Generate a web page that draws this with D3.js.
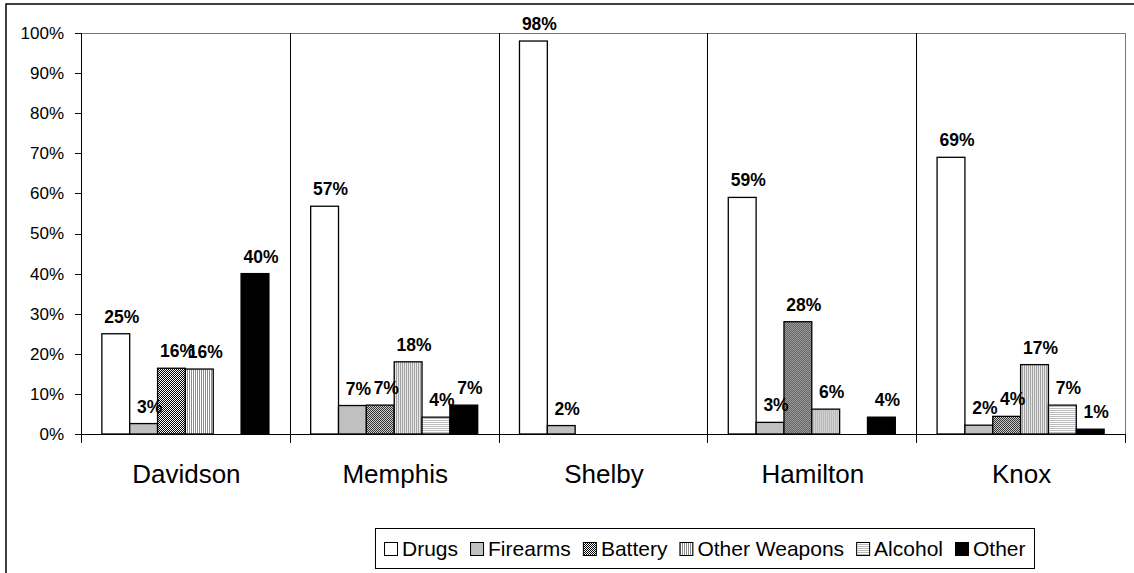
<!DOCTYPE html>
<html lang="en">
<head>
    <meta charset="UTF-8">
    <title>Bar chart</title>
    <script type="text/javascript" src="https://cdn.jsdelivr.net/npm/d3@7/dist/d3.min.js"></script>
    <style>
        body { margin: 0; background: #fff; }
        svg text { font-family: "Liberation Sans", Arial, sans-serif; fill: #000; }
        .axis path, .axis line { fill: none; stroke: #000; shape-rendering: crispEdges; }
        .axis text { font-size: 17px; }
    </style>
</head>
<body>
<script type="text/javascript">
    let width = 1134;
    let height = 573;

    // data
    let categories = ['Davidson', 'Memphis', 'Shelby', 'Hamilton', 'Knox'];
    let seriesNames = ['Drugs', 'Firearms', 'Battery', 'Other Weapons', 'Alcohol', 'Other'];
    let drugs = [25, 56.8, 98, 59, 69];
    let firearms = [2.6, 7.1, 2.1, 2.9, 2.2];
    let battery = [16.4, 7.2, 0, 28, 4.4];
    let otherWeapons = [16.2, 18, 0, 6.2, 17.3];
    let alcohol = [0, 4.2, 0, 0, 7.2];
    let other = [40, 7.2, 0, 4.2, 1.2];
    let yTicks = [0, 10, 20, 30, 40, 50, 60, 70, 80, 90, 100];

    let seriesValues = [drugs, firearms, battery, otherWeapons, alcohol, other];

    let svg = d3.select('body')
        .append('svg')
        .attr('width', width)
        .attr('height', height);

    // patterns for the bar fills
    let defs = svg.append('defs');
    let checker = defs.append('pattern').attr('id', 'p-battery')
        .attr('patternUnits', 'userSpaceOnUse').attr('width', 2).attr('height', 2);
    checker.append('rect').attr('width', 2).attr('height', 2).attr('fill', '#fff');
    checker.append('rect').attr('width', 1).attr('height', 1).attr('fill', '#000');
    checker.append('rect').attr('x', 1).attr('y', 1).attr('width', 1).attr('height', 1).attr('fill', '#000');

    let vlines = defs.append('pattern').attr('id', 'p-weapons')
        .attr('patternUnits', 'userSpaceOnUse').attr('width', 2).attr('height', 2);
    vlines.append('rect').attr('width', 2).attr('height', 2).attr('fill', '#fff');
    vlines.append('rect').attr('width', 1).attr('height', 2).attr('fill', '#8c8c8c');

    let hlines = defs.append('pattern').attr('id', 'p-alcohol')
        .attr('patternUnits', 'userSpaceOnUse').attr('width', 2).attr('height', 2);
    hlines.append('rect').attr('width', 2).attr('height', 2).attr('fill', '#fff');
    hlines.append('rect').attr('width', 2).attr('height', 1).attr('fill', '#bcbcbc');

    let fills = ['#fff', '#c0c0c0', 'url(#p-battery)', 'url(#p-weapons)', 'url(#p-alcohol)', '#000'];

    // outer chart frame (runs off the picture on the right and bottom)
    svg.append('rect')
        .attr('x', 6).attr('y', 4)
        .attr('width', 1200).attr('height', 700)
        .attr('fill', 'none').attr('stroke', '#000').attr('stroke-width', 1.5);

    let plot = {left: 81, top: 33, right: 1125, bottom: 434};

    let x0 = d3.scaleBand()
        .domain(categories)
        .range([plot.left, plot.right])
        .padding(0);

    let gap = x0.bandwidth() * 1.5 / 7.5;
    let x1 = d3.scaleBand()
        .domain(seriesNames)
        .range([gap / 2, x0.bandwidth() - gap / 2])
        .padding(0);

    let y = d3.scaleLinear()
        .domain([0, 100])
        .range([plot.bottom, plot.top]);

    // plot area
    svg.append('rect')
        .attr('x', plot.left).attr('y', plot.top)
        .attr('width', plot.right - plot.left)
        .attr('height', plot.bottom - plot.top)
        .attr('fill', '#fff')
        .attr('stroke', '#777')
        .attr('shape-rendering', 'crispEdges');

    // separators between counties
    svg.append('g')
        .selectAll('line')
        .data(categories.slice(1))
        .enter()
        .append('line')
        .attr('x1', d => Math.round(x0(d)) + 0.5)
        .attr('x2', d => Math.round(x0(d)) + 0.5)
        .attr('y1', plot.top)
        .attr('y2', plot.bottom)
        .attr('stroke', '#000');

    // bars
    let rows = [];
    categories.forEach(function (c, ci) {
        seriesNames.forEach(function (s, si) {
            rows.push({cat: c, name: s, si: si, value: seriesValues[si][ci]});
        });
    });

    let groups = svg.append('g').selectAll('g')
        .data(categories)
        .enter()
        .append('g')
        .attr('transform', d => 'translate(' + x0(d) + ',0)');

    groups.selectAll('rect')
        .data(c => rows.filter(r => r.cat === c && r.value > 0))
        .enter()
        .append('rect')
        .attr('x', d => x1(d.name))
        .attr('y', d => y(d.value))
        .attr('width', x1.bandwidth())
        .attr('height', d => y(0) - y(d.value))
        .attr('fill', d => fills[d.si])
        .attr('stroke', '#000')
        .attr('stroke-width', 1.3);

    let fmt = d3.format('.0%');
    groups.selectAll('text')
        .data(c => rows.filter(r => r.cat === c && r.value > 0))
        .enter()
        .append('text')
        .attr('x', d => x1(d.name) + x1.bandwidth() / 2 + 6)
        .attr('y', d => y(d.value) - 11)
        .attr('text-anchor', 'middle')
        .style('font-size', '17.5px')
        .style('font-weight', 'bold')
        .text(d => fmt(d.value / 100));

    // y axis
    let yAxis = d3.axisLeft(y)
        .tickValues(yTicks)
        .tickSize(6)
        .tickPadding(11)
        .tickFormat(d => d + '%');
    svg.append('g')
        .attr('class', 'axis')
        .attr('transform', 'translate(' + plot.left + ',0)')
        .call(yAxis);

    // x axis line with ticks at the group boundaries
    let xAxis = svg.append('g').attr('class', 'axis');
    xAxis.append('line')
        .attr('x1', plot.left).attr('x2', plot.right)
        .attr('y1', plot.bottom + 0.5).attr('y2', plot.bottom + 0.5);
    xAxis.selectAll('.tick')
        .data(categories.concat(['end']))
        .enter()
        .append('line')
        .attr('class', 'tick')
        .attr('x1', d => d === 'end' ? plot.right : Math.round(x0(d)) + 0.5)
        .attr('x2', d => d === 'end' ? plot.right : Math.round(x0(d)) + 0.5)
        .attr('y1', plot.bottom)
        .attr('y2', plot.bottom + 9);
    xAxis.selectAll('text')
        .data(categories)
        .enter()
        .append('text')
        .attr('x', d => x0(d) + x0.bandwidth() / 2 + 1)
        .attr('y', 483)
        .attr('text-anchor', 'middle')
        .style('font-size', '26px')
        .text(d => d);

    // legend
    let legend = svg.append('g');
    let legendBox = legend.append('rect')
        .attr('x', 375.5).attr('y', 528.5)
        .attr('height', 40)
        .attr('fill', '#fff')
        .attr('stroke', '#000');
    let legendItems = legend.selectAll('g')
        .data(seriesNames)
        .enter()
        .append('g');
    legendItems.append('text')
        .attr('y', 556)
        .style('font-size', '21px')
        .text(d => d);
    let lx = 384;
    legendItems.each(function (d, i) {
        let g = d3.select(this);
        g.insert('rect', 'text')
            .attr('x', lx + 0.5).attr('y', 542.5)
            .attr('width', 13).attr('height', 13)
            .attr('fill', fills[i])
            .attr('stroke', '#000');
        let w = g.select('text').attr('x', lx + 18).node().getComputedTextLength();
        lx += 18 + w + 12;
    });
    legendBox.attr('width', 1034 - 375);
</script>
</body>
</html>
